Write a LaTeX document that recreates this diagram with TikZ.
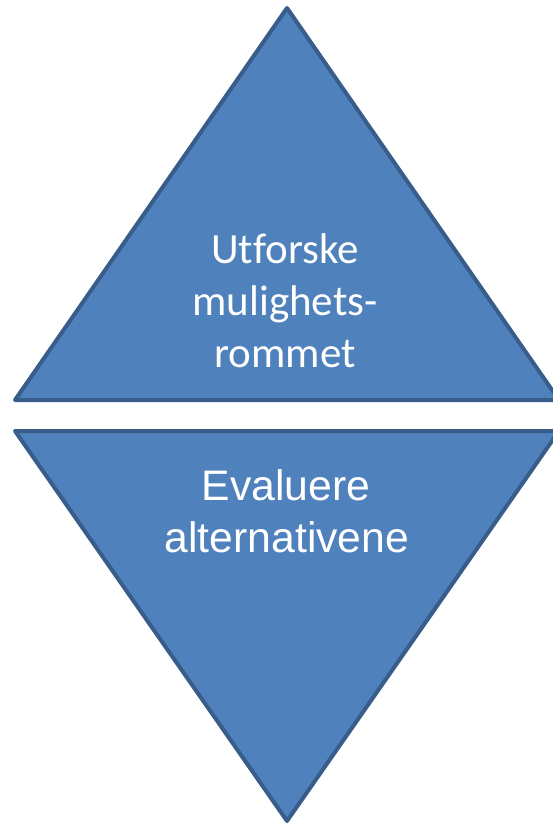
\documentclass[tikz,border=0pt]{standalone}
\usepackage{fontspec}
\newfontfamily\calfont[Ligatures=NoCommon]{Carlito}
\newfontfamily\arifont{Liberation Sans}
\definecolor{tfill}{HTML}{4F81BD}
\definecolor{tline}{HTML}{385D8A}
\begin{document}
\begin{tikzpicture}[x=1pt,y=-1pt,
  tri/.style={fill=tfill,draw=tline,line width=4pt,line join=round},
  uptxt/.style={text=white,font=\calfont\fontsize{43}{51}\selectfont,anchor=base,inner sep=0pt},
  lowtxt/.style={text=white,font=\arifont\fontsize{42.7}{50}\selectfont,anchor=base,inner sep=0pt}]
\useasboundingbox (0,0) rectangle (552,826);
\fill[white] (0,0) rectangle (552,826);
\draw[tri] (287,8) -- (15,400) -- (559,400) -- cycle;
\draw[tri] (15,431) -- (559,431) -- (287,821) -- cycle;
\node[uptxt] (u1) at (285,263) {Utforske};
\node[uptxt] (u2) at (285,315) {mulighets-};
\node[uptxt] (u3) at (285,367) {rommet};
\node[lowtxt] (l1) at (286,500) {Evaluere};
\node[lowtxt] (l2) at (287,552) {alternativene};
\end{tikzpicture}
\end{document}
